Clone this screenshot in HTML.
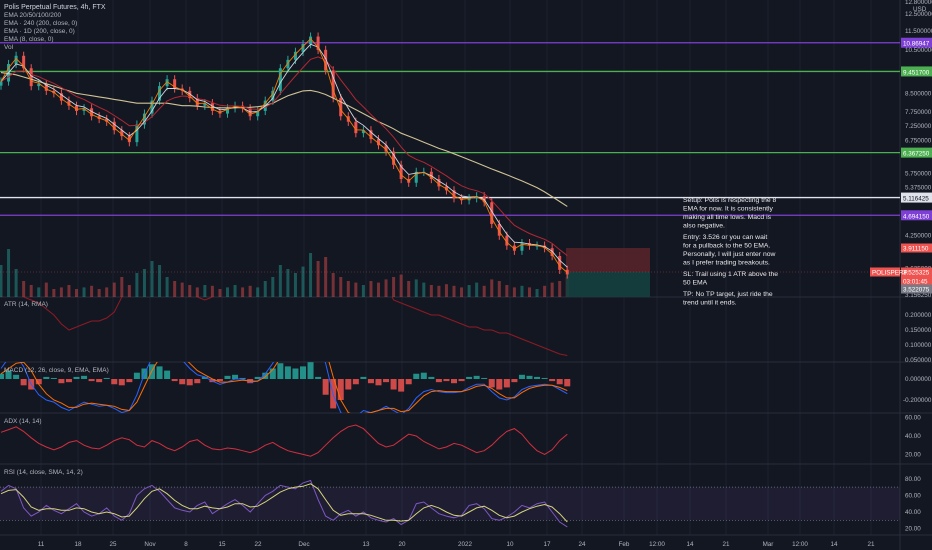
<!DOCTYPE html>
<html><head><meta charset="utf-8"><style>
html,body{margin:0;padding:0;background:#131722;width:932px;height:550px;overflow:hidden;font-family:"Liberation Sans",sans-serif}
svg{display:block}
text{font-family:"Liberation Sans",sans-serif}
</style></head><body>
<svg id="chart" width="932" height="550" xmlns="http://www.w3.org/2000/svg">
<rect x="0" y="0" width="932" height="550" fill="#131722"/>
<g id="grid"></g>
<g id="main"></g>
<g id="ind"></g>
<g id="axis"></g>
<g id="legend">
<text x="4" y="9" fill="#d1d4dc" font-size="7">Polis Perpetual Futures, 4h, FTX</text>
<text x="4" y="17" fill="#b2b5be" font-size="6.5">EMA 20/50/100/200</text>
<text x="4" y="25" fill="#b2b5be" font-size="6.5">EMA · 240 (200, close, 0)</text>
<text x="4" y="33" fill="#b2b5be" font-size="6.5">EMA · 1D (200, close, 0)</text>
<text x="4" y="41" fill="#b2b5be" font-size="6.5">EMA (8, close, 0)</text>
<text x="4" y="49" fill="#b2b5be" font-size="6.5">Vol</text>
<text x="4" y="306" fill="#b2b5be" font-size="6.5">ATR (14, RMA)</text>
<text x="4" y="372" fill="#b2b5be" font-size="6.5">MACD (12, 26, close, 9, EMA, EMA)</text>
<text x="4" y="423" fill="#b2b5be" font-size="6.5">ADX (14, 14)</text>
<text x="4" y="474" fill="#b2b5be" font-size="6.5">RSI (14, close, SMA, 14, 2)</text>
</g>
<g id="note" fill="#e8e8ea" font-size="6.8">
<text x="683" y="202">Setup: Polis is respecting the 8</text>
<text x="683" y="210.5">EMA for now. It is consistently</text>
<text x="683" y="219">making all time lows. Macd is</text>
<text x="683" y="227.5">also negative.</text>
<text x="683" y="239">Entry: 3.526 or you can wait</text>
<text x="683" y="247.5">for a pullback to the 50 EMA.</text>
<text x="683" y="256">Personally, I will just enter now</text>
<text x="683" y="264.5">as I prefer trading breakouts.</text>
<text x="683" y="276">SL: Trail using 1 ATR above the</text>
<text x="683" y="284.5">50 EMA</text>
<text x="683" y="296">TP: No TP target, just ride the</text>
<text x="683" y="304.5">trend until it ends.</text>
</g>
</svg>
<script>
const closes=[9.0,9.8,10.2,9.6,8.8,8.9,8.6,8.5,8.2,8.0,7.8,7.9,7.6,7.5,7.4,7.1,6.9,6.7,7.3,7.7,8.2,8.8,9.1,8.7,8.6,8.3,8.0,8.1,7.8,7.7,7.9,8.0,7.9,7.6,7.8,8.2,8.6,9.6,10.0,10.4,10.8,11.2,10.5,9.5,8.3,7.6,7.4,7.0,7.1,6.8,6.6,6.4,6.0,5.6,5.5,5.8,5.8,5.6,5.4,5.3,5.1,5.05,5.1,5.15,5.0,4.5,4.25,4.05,3.95,4.1,4.05,4.05,4.0,3.85,3.6,3.52];
const ema200=[9.4,9.35,9.3,9.2,9.1,9.0,8.9,8.8,8.7,8.6,8.5,8.45,8.4,8.35,8.3,8.25,8.2,8.15,8.1,8.1,8.1,8.1,8.1,8.05,8.0,8.0,7.98,7.95,7.93,7.92,7.92,7.92,7.93,7.94,7.96,8.0,8.1,8.25,8.4,8.5,8.6,8.62,8.55,8.45,8.3,8.15,8.0,7.85,7.7,7.55,7.4,7.28,7.15,7.0,6.9,6.8,6.7,6.6,6.5,6.42,6.33,6.24,6.15,6.06,5.97,5.88,5.8,5.72,5.63,5.55,5.46,5.37,5.26,5.14,5.02,4.9];
const volume=[40,60,35,20,15,12,18,10,12,15,10,12,14,10,12,18,25,15,30,35,45,40,25,20,18,15,12,15,14,10,12,15,12,14,12,20,25,40,35,30,38,55,45,50,30,25,20,18,15,20,18,22,25,28,20,22,18,15,14,16,14,12,15,18,14,22,20,15,12,14,12,10,14,18,20,25];
const atr=[0.26,0.27,0.28,0.26,0.25,0.24,0.22,0.2,0.17,0.15,0.16,0.17,0.18,0.18,0.19,0.21,0.26,0.3,0.33,0.35,0.36,0.34,0.32,0.3,0.28,0.27,0.26,0.25,0.26,0.27,0.28,0.3,0.32,0.33,0.35,0.38,0.42,0.45,0.46,0.47,0.48,0.5,0.52,0.5,0.46,0.42,0.38,0.35,0.33,0.32,0.31,0.3,0.25,0.24,0.23,0.22,0.21,0.2,0.2,0.19,0.18,0.17,0.16,0.16,0.15,0.15,0.14,0.14,0.13,0.12,0.11,0.1,0.09,0.08,0.07,0.065];
const macdHist=[0.05,0.08,0.04,-0.06,-0.1,-0.05,0.02,0.01,-0.04,-0.03,0.02,0.03,-0.02,-0.03,0.01,-0.05,-0.06,-0.03,0.06,0.1,0.14,0.12,0.08,-0.02,-0.05,-0.06,-0.04,0.02,-0.03,-0.02,0.03,0.04,0.01,-0.04,0.02,0.06,0.1,0.15,0.12,0.1,0.12,0.16,0.02,-0.15,-0.28,-0.2,-0.1,-0.05,0.02,-0.04,-0.06,-0.03,-0.1,-0.12,-0.05,0.05,0.06,0.02,-0.03,-0.02,-0.04,-0.02,0.02,0.03,0.01,-0.08,-0.1,-0.08,-0.03,0.04,0.03,0.02,0.01,-0.02,-0.05,-0.07];
const macdLine=[0.1,0.2,0.22,0.12,-0.05,-0.15,-0.2,-0.22,-0.27,-0.3,-0.26,-0.22,-0.24,-0.26,-0.25,-0.28,-0.32,-0.3,-0.15,0.05,0.2,0.3,0.32,0.26,0.18,0.1,0.04,0.02,-0.02,-0.05,-0.03,0.0,0.0,-0.03,-0.02,0.05,0.15,0.3,0.38,0.42,0.48,0.52,0.4,0.15,-0.15,-0.32,-0.38,-0.36,-0.3,-0.32,-0.3,-0.26,-0.3,-0.34,-0.28,-0.18,-0.12,-0.1,-0.12,-0.13,-0.13,-0.12,-0.08,-0.05,-0.05,-0.12,-0.18,-0.2,-0.17,-0.1,-0.07,-0.06,-0.05,-0.06,-0.1,-0.14];
const macdSignal=[0.05,0.1,0.15,0.16,0.08,-0.05,-0.14,-0.2,-0.23,-0.27,-0.27,-0.24,-0.23,-0.24,-0.25,-0.26,-0.29,-0.3,-0.22,-0.07,0.08,0.2,0.27,0.28,0.22,0.15,0.08,0.04,0.0,-0.03,-0.03,-0.02,-0.01,-0.02,-0.02,0.02,0.09,0.2,0.3,0.37,0.43,0.48,0.44,0.28,0.02,-0.2,-0.32,-0.35,-0.33,-0.32,-0.3,-0.28,-0.28,-0.31,-0.3,-0.23,-0.16,-0.12,-0.11,-0.12,-0.12,-0.12,-0.1,-0.07,-0.06,-0.09,-0.14,-0.18,-0.18,-0.13,-0.09,-0.07,-0.06,-0.06,-0.08,-0.11];
const adx=[44,47,50,45,38,32,28,25,28,33,35,30,27,26,30,35,38,36,30,28,35,32,27,24,28,34,36,30,26,25,27,26,24,22,25,30,33,28,24,22,20,18,22,30,38,45,50,52,48,40,32,28,30,36,42,40,34,30,26,28,32,30,26,22,24,30,38,45,48,42,32,24,20,25,35,42];
const rsi=[65,72,68,45,35,40,48,42,38,44,50,40,35,38,45,35,30,38,60,68,72,65,55,45,42,40,48,52,38,44,50,55,48,40,50,60,65,72,70,68,75,78,55,35,30,38,42,35,40,33,30,28,32,25,30,50,52,45,38,35,33,36,48,50,44,32,30,34,40,48,45,50,52,40,28,22];
const rsiMa=[62,66,67,58,46,42,44,44,42,42,45,44,40,38,40,38,34,35,45,56,65,68,62,54,48,44,44,47,45,44,46,50,50,46,47,52,58,64,68,70,71,74,68,55,42,36,38,38,38,36,33,30,30,29,30,38,45,48,45,40,36,35,40,45,47,42,36,33,35,40,44,47,49,46,38,28];
const timeLabels=["11","18","25","Nov","8","15","22","Dec","13","20","2022","10","17","24","Feb","12:00","14","21","Mar","12:00","14","21"];
const mainTicks=["12.500000","11.500000","10.500000","8.500000","7.750000","7.250000","6.750000","5.750000","5.375000","4.250000","3.625000"];
const levelValues=[10.869475,9.4517,6.36725,5.116425,4.69415];
const levelColors=["#7e3fd6","#4caf50","#4caf50","#e0e3eb","#7e3fd6"];

const NS="http://www.w3.org/2000/svg";
function mk(tag,attrs,parent){const e=document.createElementNS(NS,tag);for(const k in attrs)e.setAttribute(k,attrs[k]);parent.appendChild(e);return e;}
const AX=900, STEP=7.55;
const xAt=i=>i*STEP+1;
const yPrice=p=>14+(Math.log(12.5)-Math.log(p))*205.5;
const yAtr=v=>375-v*300;
const yMacd=v=>379-v*105;
const yAdx=v=>436-(v-40)*0.92;
const yRsi=v=>512-(v-40)*0.83;
const G=document.getElementById('grid'),M=document.getElementById('main'),I=document.getElementById('ind'),A=document.getElementById('axis');
const labelX=[41,78,113,150,186,222,258,304,366,402,465,510,547,582,624,657,690,726,768,800,834,871];
const defs=mk('defs',{},document.getElementById('chart'));
[[0,0,297],[1,297,65],[2,362,51],[3,413,51],[4,464,71]].forEach(([k,y,h])=>{const c=mk('clipPath',{id:'c'+k},defs);mk('rect',{x:0,y:y,width:AX,height:h},c);});
labelX.forEach(x=>{const l=mk('line',{x1:x,y1:0,x2:x,y2:535,stroke:'#1e2230','stroke-width':1},G);

});
[297,362,413,464,535].forEach(y=>{const l=mk('line',{x1:0,y1:y,x2:932,y2:y,stroke:'#2a2e39','stroke-width':1},G);

});
const axl=mk('line',{x1:AX,y1:0,x2:AX,y2:550,stroke:'#2a2e39'},G);


const vg=mk('g',{'clip-path':'url(#c0)'},M);
volume.forEach((v,i)=>{const up=i==0||closes[i]>=closes[i-1];const h=v*0.8;const r=mk('rect',{x:xAt(i)-1.5,y:297-h,width:3,height:h,fill:up?'#26a69a':'#ef5350',opacity:0.45},vg);

});
levelValues.forEach((p,k)=>{const y=yPrice(p);const l=mk('line',{x1:0,y1:y,x2:AX,y2:y,stroke:levelColors[k],'stroke-width':1.3},M);


const t=mk('rect',{x:AX+1,y:y-5,width:31,height:10,fill:levelColors[k]},A);


const tx=mk('text',{x:AX+3,y:y+3,'font-size':6.3,fill:k==3?'#131722':'#fff'},A);tx.textContent=p.toFixed(6).slice(0,8);});
const rb=mk('rect',{x:566,y:248,width:84,height:24,fill:'#5a2329',opacity:0.85},M);


const gb=mk('rect',{x:566,y:272,width:84,height:25,fill:'#15403f',opacity:0.9},M);


const cl=mk('line',{x1:0,y1:272,x2:AX,y2:272,stroke:'#ef5350','stroke-width':0.5,'stroke-dasharray':'1,2',opacity:0.6},M);


closes.forEach((c,i)=>{const o=i==0?c*0.98:closes[i-1];const up=c>=o;const col=up?'#26a69a':'#ef5350';
const hi=Math.max(o,c)*1.02,lo=Math.min(o,c)*0.98;
const w=mk('line',{x1:xAt(i),y1:yPrice(hi),x2:xAt(i),y2:yPrice(lo),stroke:col,'stroke-width':1},M);


const y1=yPrice(Math.max(o,c)),y2=yPrice(Math.min(o,c));
const b=mk('rect',{x:xAt(i)-1.5,y:y1,width:3,height:Math.max(1,y2-y1),fill:col},M);

});
function ema(arr,n){const k=2/(n+1);let e=arr[0];return arr.map(v=>e=v*k+e*(1-k));}
function poly(vals,fy,col,w,clip,name){const d=vals.map((v,i)=>(i?'L':'M')+xAt(i).toFixed(1)+','+fy(v).toFixed(1)).join('');
const p=mk('path',{d:d,fill:'none',stroke:col,'stroke-width':w,'clip-path':'url(#c'+clip+')'},clip==0?M:I);

return p;}
poly(ema200,yPrice,'#cfc395',1.1,0,'ema-200-line');
poly(ema(closes,7),yPrice,'#b22833',1,0,'ema-50-line');
poly(ema(closes,3),yPrice,'#d1d4dc',0.9,0,'ema-20-line');
poly(ema(closes,1.6),yPrice,'#f57c00',0.9,0,'ema-8-line');
poly(atr,yAtr,'#8e1b25',1,1,'atr-line');
macdHist.forEach((v,i)=>{const y0=yMacd(0),y=yMacd(v);const up=v>=0;const r=mk('rect',{x:xAt(i)-3,y:Math.min(y,y0),width:6,height:Math.abs(y-y0),fill:up?'#26a69a':'#ef5350','clip-path':'url(#c2)',opacity:0.85},I);

});
poly(macdLine,yMacd,'#2962ff',1,2,'macd-line');
poly(macdSignal,yMacd,'#ff6d00',1,2,'macd-signal-line');
poly(adx,yAdx,'#d32f3f',1,3,'adx-line');
const band=mk('rect',{x:0,y:yRsi(70),width:AX,height:yRsi(30)-yRsi(70),fill:'#7e57c2',opacity:0.1},I);


[70,30].forEach(v=>{const l=mk('line',{x1:0,y1:yRsi(v),x2:AX,y2:yRsi(v),stroke:'#787b86','stroke-dasharray':'1,2','stroke-width':0.7},I);

});
poly(rsi,yRsi,'#7e57c2',1,4,'rsi-line');
poly(rsiMa,yRsi,'#d4d37a',1,4,'rsi-ma-line');
function atext(x,y,s,name,fill){const t=mk('text',{x:x,y:y,'font-size':6.3,fill:fill||'#b2b5be'},A);t.textContent=s;

return t;}
atext(AX+5,4,'12.800000','price-tick');
atext(AX+13,11,'USD','currency-label');
const mtY=[12.5,11.5,10.5,8.5,7.75,7.25,6.75,5.75,5.375,4.25,3.625];
mainTicks.forEach((s,k)=>atext(AX+5,yPrice(mtY[k])+2,s,'price-tick'));
atext(AX+5,297,'3.156250','price-tick');
[0.2,0.15,0.1,0.05].forEach(v=>atext(AX+5,yAtr(v)+2,v.toFixed(6),'atr-tick'));
atext(AX+5,yMacd(0)+2,'0.000000','macd-tick');
atext(AX+3,yMacd(-0.2)+2,'-0.200000','macd-tick');
[60,40,20].forEach(v=>atext(AX+5,yAdx(v)+2,v.toFixed(2),'adx-tick'));
[80,60,40,20].forEach(v=>atext(AX+5,yRsi(v)+2,v.toFixed(2),'rsi-tick'));
const tags=[[248,'#ef5350','3.911150'],[272,'#ef5350','3.525325'],[281,'#ef5350','03:01:45'],[289,'#787b86','3.522075']];
tags.forEach(([y,c,s])=>{const r=mk('rect',{x:AX+1,y:y-4.5,width:31,height:9,fill:c},A);


atext(AX+3,y+2.5,s,'price-tag-text','#fff');});
const sym=mk('rect',{x:870,y:267.5,width:30,height:9,fill:'#ef5350'},A);


atext(872,274.5,'POLISPERP','symbol-tag-text','#fff');
timeLabels.forEach((s,k)=>{const t=mk('text',{x:labelX[k],y:546,'font-size':6.3,fill:'#b2b5be','text-anchor':'middle'},A);t.textContent=s;

});
</script>
</body></html>
